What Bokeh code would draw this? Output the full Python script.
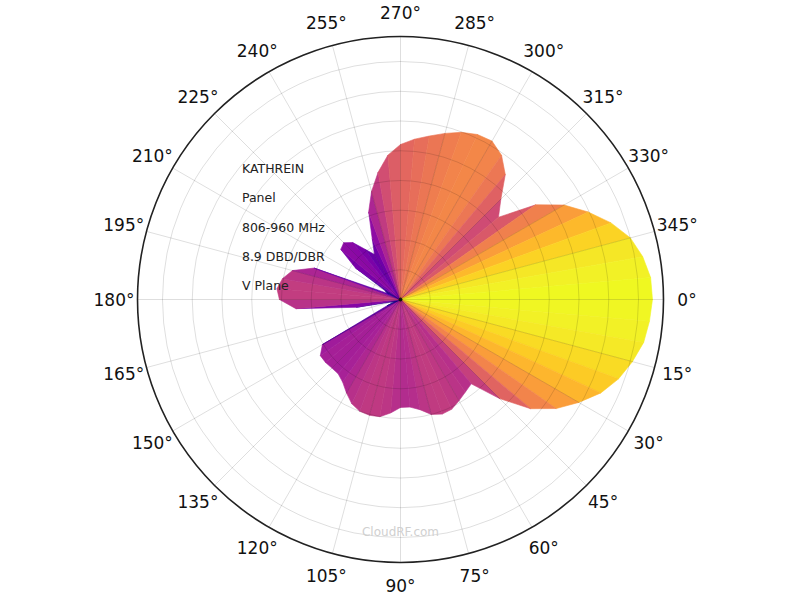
import numpy as np
from bokeh.plotting import figure
from bokeh.models import Range1d, ColumnDataSource
from bokeh.palettes import Plasma256
from bokeh.embed import file_html
from bokeh.resources import INLINE
from bokeh.core.properties import value

# ---- data (angle measured clockwise from 0 deg at right) ----
angles_deg = [0, 5, 10, 15, 20, 25, 30, 35, 40, 45, 50, 55, 60, 65, 70, 75,
              80, 85, 90, 95, 100, 105, 110, 115, 120, 125, 130, 135, 140, 145,
              150, 155, 160, 165, 170, 175, 180, 185, 190, 195, 200, 205, 210,
              215, 220, 225, 230, 235, 240, 245, 250, 255, 260, 265, 270, 275,
              280, 285, 290, 295, 300, 305, 310, 315, 320, 325, 330, 335, 340,
              345, 350, 355]
gain = [8.47, 8.40, 8.30, 8.07, 7.80, 7.43, 6.92, 6.39, 5.71, 4.71, 3.70, 3.80,
        3.93, 4.07, 4.10, 4.00, 3.76, 3.63, 3.63, 3.83, 4.00, 4.03, 4.00, 3.87,
        3.63, 3.39, 3.26, 3.26, 3.29, 3.29, 3.03, 0.50, 0.20, 0.34, 1.51, 3.53,
        4.07, 4.17, 4.03, 3.76, 3.09, 0.50, 0.60, 1.85, 2.62, 2.70, 2.50, 2.05,
        1.75, 2.25, 3.13, 3.76, 4.34, 4.87, 5.21, 5.41, 5.58, 5.78, 5.98, 6.12,
        6.15, 5.92, 5.48, 4.77, 4.30, 5.55, 6.35, 6.96, 7.53, 8.00, 8.27, 8.44]
ring_values = [1, 2, 3, 4, 5, 6, 7, 8]
r_outer = 8.84
spoke_angles = list(range(0, 360, 15))
angle_labels = [f"{a}°" for a in spoke_angles]
info_lines = ["KATHREIN", "Panel", "806-960 MHz", "8.9 DBD/DBR", "V Plane"]
watermark = "CloudRF.com"

# ---- layout ----
PX = 29.75          # pixels per radial unit
W, H = 800, 599
cx_px, cy_px = 400, 299
label_r = 9.63
color_floor = 0.3

p = figure(width=W, height=H, output_backend="svg", toolbar_location=None,
           x_range=Range1d(-cx_px / PX, (W - cx_px) / PX),
           y_range=Range1d(-(H - cy_px) / PX, cy_px / PX),
           min_border=0)
p.axis.visible = False
p.grid.visible = False
p.outline_line_color = None
p.background_fill_color = "white"


def pol(r, deg):
    t = np.deg2rad(deg)
    return r * np.cos(t), -r * np.sin(t)


ang = np.array(angles_deg, dtype=float)
g = np.array(gain, dtype=float)
n = len(ang)
gmax = g.max()
xs, ys, cols = [], [], []
for i in range(n):
    j = (i + 1) % n
    a1, a2 = ang[i], ang[j] + (360 if j == 0 else 0)
    x1, y1 = pol(g[i], a1)
    x2, y2 = pol(g[j], a2)
    xs.append([0, x1, x2])
    ys.append([0, y1, y2])
    m = 0.5 * (g[i] + g[j])
    frac = np.clip((m - color_floor) / (gmax - color_floor), 0, 1)
    cols.append(Plasma256[int(round(frac * 255))])

p.patches(xs="xs", ys="ys", fill_color="c", line_color="c", line_width=0.6,
          source=ColumnDataSource(dict(xs=xs, ys=ys, c=cols)))

# grid (over the pattern, translucent)
p.circle(x=0, y=0, radius=ring_values, fill_color=None, line_color="black",
         line_alpha=0.13, line_width=1)
sx, sy = pol(r_outer, np.array(spoke_angles, dtype=float))
p.segment(x0=0, y0=0, x1=sx, y1=sy, line_color="black", line_alpha=0.13,
          line_width=1)
p.circle(x=0, y=0, radius=r_outer, fill_color=None, line_color="#222222",
         line_width=1.6)
p.scatter(x=[0], y=[0], size=3, color="#111111")

# angle labels
lx, ly = pol(label_r, np.array(spoke_angles, dtype=float))
p.text(x=lx, y=ly, text=angle_labels, text_align="center",
       text_baseline="middle", text_font=value("DejaVu Sans"),
       text_font_size="17px", text_color="#111111")

# info text
info_x = [-5.33] * len(info_lines)
info_y = [4.40, 3.43, 2.42, 1.45, 0.47]
p.text(x=info_x, y=info_y, text=info_lines, text_align="left",
       text_baseline="alphabetic", text_font=value("DejaVu Sans"),
       text_font_size="12.5px", text_color="#222222")

p.text(x=[0], y=[-7.80], text=[watermark], text_align="center",
       text_baseline="middle", text_font=value("DejaVu Sans"),
       text_font_size="12px", text_color="#d0d0d0")

open("out.html", "w").write(file_html(p, INLINE))
